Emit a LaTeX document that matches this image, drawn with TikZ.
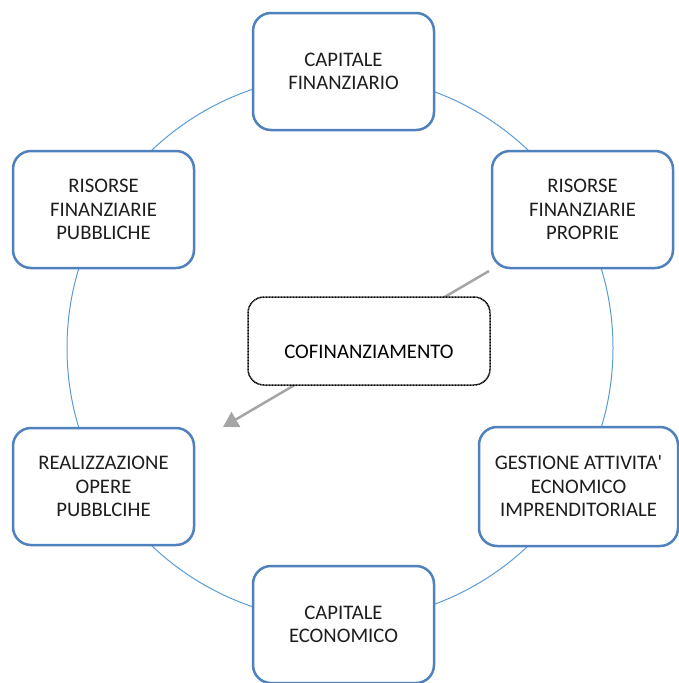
\documentclass[tikz,border=0pt]{standalone}
\usepackage{fontspec}
\setmainfont{Carlito}
\newfontfamily\carlraw{Carlito}
\usetikzlibrary{arrows.meta}
\definecolor{ringblue}{RGB}{91,155,213}
\definecolor{boxblue}{RGB}{79,129,189}
\definecolor{arrowgray}{RGB}{165,165,165}
\definecolor{txt}{RGB}{30,30,30}
\tikzset{
  stagebox/.style={draw=boxblue, line width=2.5pt, rounded corners=18pt, fill=white,
    minimum width=181pt, minimum height=117pt, align=center, inner sep=0pt, text=txt,
    font=\fontsize{20.7}{23.5}\selectfont},
  centerbox/.style={draw=black, line width=1.5pt, dash pattern=on 1pt off 0.5pt,
    rounded corners=16pt, fill=white, minimum width=242pt, minimum height=88pt, inner sep=0pt},
  lbl/.style={font=\fontsize{20.7}{23.5}\selectfont, inner sep=0pt, text=black},
  ring/.style={draw=ringblue, line width=1pt},
  grayarrow/.style={draw=arrowgray, line width=2.5pt, -{Triangle[length=15pt,width=17pt]}}
}
\begin{document}
\begin{tikzpicture}[x=1pt,y=-1pt]
\useasboundingbox (0,0) rectangle (679,683);
\draw[ring] (340,348) circle[radius=273pt];
\coordinate (as) at (489,271);
\coordinate (ae) at (223,427);
\draw[grayarrow] (as) -- (ae);
\node[stagebox] (cf) at (343.5,71.5) {CAPITALE\\FINANZIARIO};
\node[stagebox] (rfp) at (582.5,209.5) {RISORSE\\FINANZIARIE\\PROPRIE};
\node[stagebox] (rfpub) at (103.5,209.5) {RISORSE\\FINANZIARIE\\PUBBLICHE};
\node[stagebox] (rop) at (103.5,486.5) {REALIZZAZIONE\\OPERE\\PUBBLCIHE};
\node[stagebox, minimum width=199pt, minimum height=119pt] (gest) at (578.5,486.5) {GESTIONE ATTIVITA{\carlraw '}\\ECNOMICO\\IMPRENDITORIALE};
\node[stagebox] (ce) at (343.5,624.5) {CAPITALE\\ECONOMICO};
\node[centerbox] (cof) at (369,341) {};
\node[lbl, anchor=base] (coft) at (369,358) {COFINANZIAMENTO};
\end{tikzpicture}
\end{document}
